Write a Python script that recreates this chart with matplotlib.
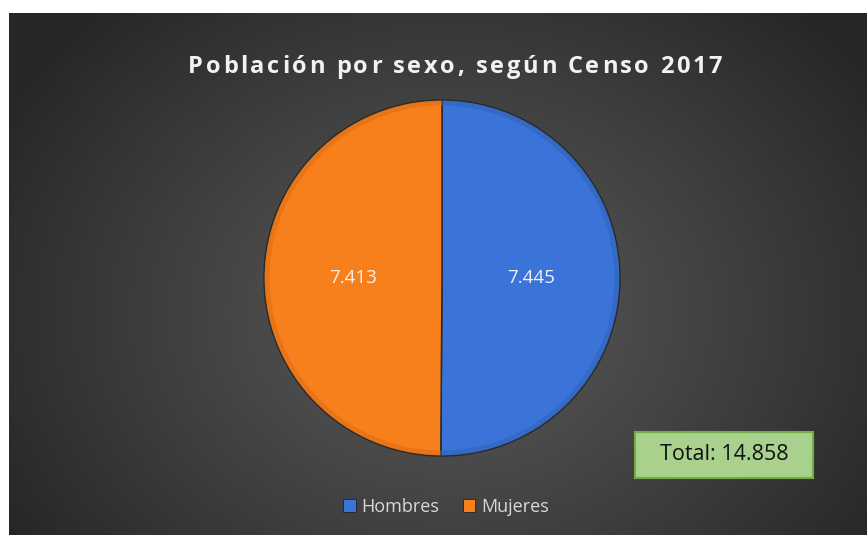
import numpy as np
import matplotlib
matplotlib.use("Agg")
import matplotlib.pyplot as plt
from matplotlib import font_manager
from matplotlib.ft2font import FT2Font
from matplotlib.patches import Patch, Rectangle, Wedge

# ---- data ----
categories = ["Hombres", "Mujeres"]
values = [7.445, 7.413]
colors = ["#3a74d8", "#f7801d"]
title = "Población por sexo, según Censo 2017"
total_label = "Total: 14.858"

W, H = 867, 535
fig = plt.figure(figsize=(W / 100, H / 100), dpi=100)
fig.patch.set_facecolor("white")

# ---- background gradient ----
bg_l, bg_t = 9, 13
bg = fig.add_axes([bg_l / W, 0, 1 - bg_l / W, 1 - bg_t / H])
bw, bh = W - bg_l, H - bg_t
yy, xx = np.mgrid[0:bh, 0:bw]
cx, cy = 440, 300
d = np.sqrt(((xx - cx) / 520.0) ** 2 + ((yy - cy) / 420.0) ** 2)
d = np.clip(d, 0, 1)
c_in, c_out = 0x5a / 255, 0x26 / 255
g = c_in + (c_out - c_in) * d ** 1.1
bg.imshow(np.dstack([g, g, g]), aspect="auto", extent=[0, bw, bh, 0])
bg.set_xlim(0, bw)
bg.set_ylim(bh, 0)
bg.axis("off")

# ---- title with letter spacing (real text, one char each) ----
fprop = font_manager.FontProperties(family="Open Sans", weight="bold")
fpath = font_manager.findfont(fprop)
fsize = 17
size_px = fsize * 100 / 72
ft = FT2Font(fpath)
try:
    from matplotlib.ft2font import LoadFlags
    noscale = LoadFlags.NO_SCALE
except Exception:
    from matplotlib.ft2font import LOAD_NO_SCALE as noscale
upem = ft.units_per_EM
advs, bears = [], []
for ch in title:
    gl = ft.load_char(ord(ch), flags=noscale)
    advs.append(gl.horiAdvance / upem * size_px)
    bears.append(gl.horiBearingX / upem * size_px)
x_left, x_right = 188, 722
track = ((x_right - x_left) - sum(advs)) / (len(title) - 1)
x = x_left
base_y = H - 73
for ch, a, b in zip(title, advs, bears):
    if ch != " ":
        fig.text((x + b) / W, base_y / H, ch, fontproperties=fprop, fontsize=fsize,
                 color="#f2f2f2", ha="left", va="baseline")
    x += a + track

# ---- pie ----
cxp, cyp, R = 442, H - 278, 178
half = 190
ax = fig.add_axes([(cxp - half) / W, (cyp - half) / H, 2 * half / W, 2 * half / H])
tot = sum(values)
wedges, texts, autotexts = ax.pie(
    values, colors=colors, startangle=90, counterclock=False, radius=R,
    autopct=lambda p: f"{p * tot / 100:.3f}", pctdistance=0.5,
    wedgeprops=dict(edgecolor="#2a2a2a", linewidth=1.1),
    textprops=dict(color="#f2f2f2", fontsize=13.5, family="Open Sans"))
# subtle bevel rim
for w, c in zip(wedges, ["#2f5fb5", "#d96a10"]):
    ax.add_patch(Wedge((0, 0), R - 0.6, w.theta1, w.theta2, width=5,
                       facecolor=c, edgecolor="none", alpha=0.5))
ax.set_xlim(-half, half)
ax.set_ylim(-half, half)
ax.set_aspect("equal")
ax.axis("off")

# ---- legend ----
handles = [Patch(facecolor=c, edgecolor="#222222", linewidth=0.6) for c in colors]
fig.legend(handles, categories, loc="center", bbox_to_anchor=(446 / W, (H - 507) / H),
           ncol=2, frameon=False, handlelength=0.7, handleheight=0.7,
           handletextpad=0.3, columnspacing=1.3,
           prop=dict(family="Open Sans", size=13), labelcolor="#d9d9d9")

# ---- total box ----
bx0, by0, bx1, by1 = 635, 432, 813, 478
fig.patches.append(Rectangle((bx0 / W, 1 - by1 / H), (bx1 - bx0) / W, (by1 - by0) / H,
                             transform=fig.transFigure, facecolor="#a9d18e",
                             edgecolor="#70ad47", linewidth=1.5))
fig.text((bx0 + bx1) / 2 / W, 1 - (by0 + by1) / 2 / H, total_label,
         ha="center", va="center", fontsize=15.5, family="Open Sans", color="#111111")

fig.savefig("out.png", dpi=100)
